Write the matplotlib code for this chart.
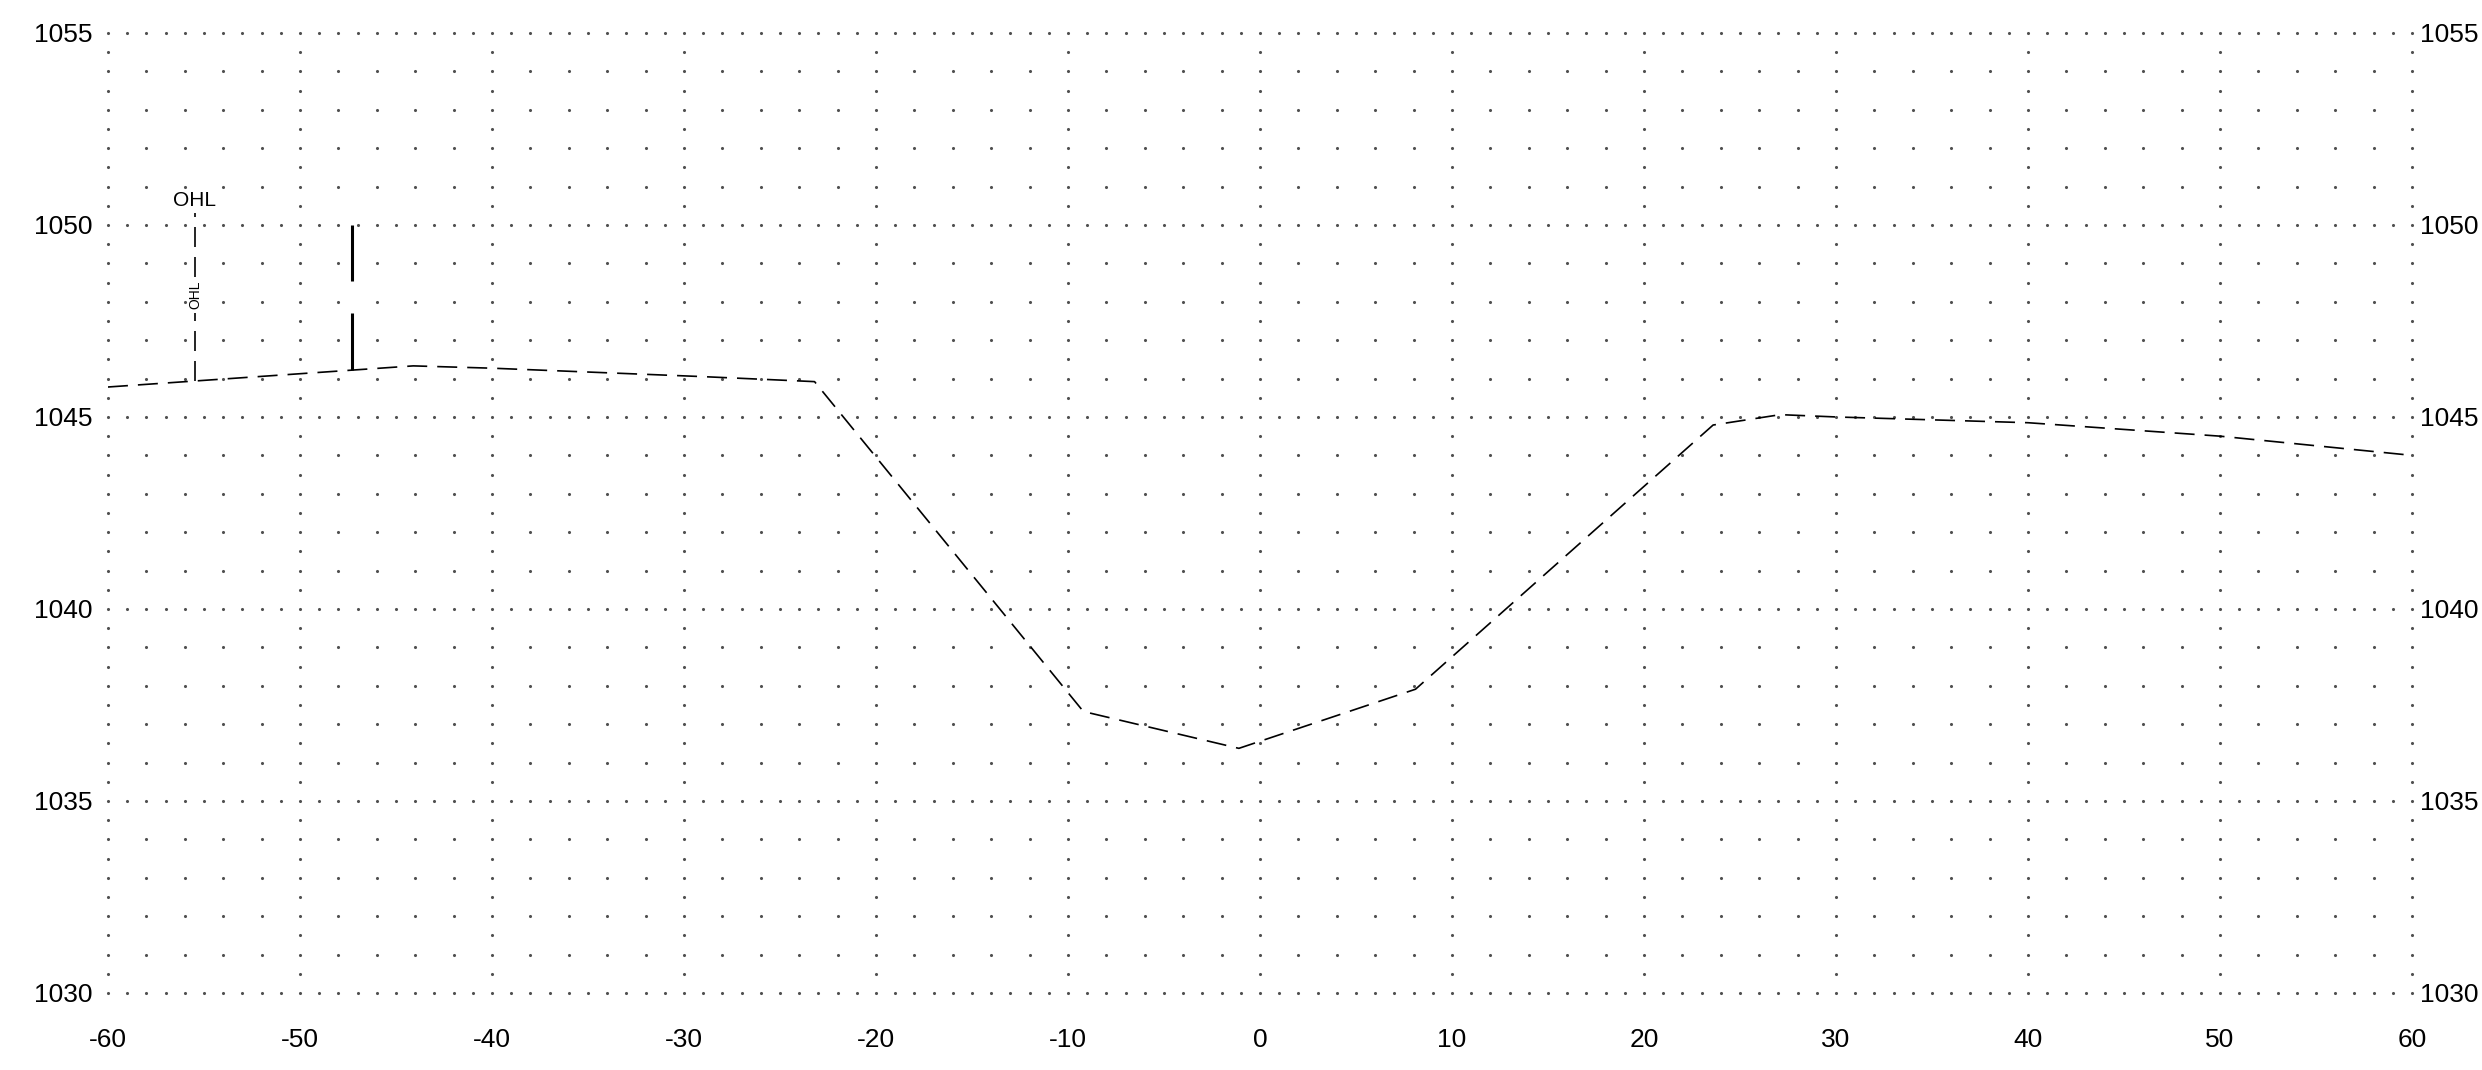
import numpy as np
import matplotlib
matplotlib.use("Agg")
import matplotlib.pyplot as plt

# ---- data ----
profile_x = [-60, -44.1, -40, -29, -23.2, -9.2, -1.1, 8.1, 23.6, 27.1, 30, 40, 50, 60]
profile_y = [1045.78, 1046.33, 1046.27, 1046.05, 1045.92, 1037.33, 1036.37, 1037.91,
             1044.79, 1045.06, 1045.0, 1044.85, 1044.5, 1044.0]
ohl_x = -55.47
ohl_top = 1050.3
ohl_label = "OHL"
pole_x = -47.3
pole_top = 1050.0
pole_gap = [1047.71, 1048.54]
x_ticks = list(range(-60, 61, 10))
y_ticks = list(range(1030, 1056, 5))
x_lim = (-60, 60)
y_lim = (1030, 1055)

plt.rcParams['font.family'] = ['Liberation Sans', 'DejaVu Sans']
plt.rcParams['axes.unicode_minus'] = False

fig = plt.figure(figsize=(24.82, 10.70), dpi=100)
ax = fig.add_axes([0.0435, 0.072, 0.9283, 0.8972])
ax.set_xlim(*x_lim)
ax.set_ylim(*y_lim)

# dotted grid
pts = []
for xv in np.arange(-60, 60.01, 10):
    for yv in np.arange(1030, 1055.01, 0.5):
        pts.append((xv, yv))
for yv in np.arange(1030, 1055.01, 5):
    for xv in np.arange(-60, 60.01, 1):
        pts.append((xv, yv))
for xv in np.arange(-60, 60.01, 2):
    for yv in np.arange(1030, 1055.01, 1):
        pts.append((xv, yv))
pts = np.unique(np.round(np.array(pts), 3), axis=0)
ax.scatter(pts[:, 0], pts[:, 1], s=5, c="#505050", linewidths=0, zorder=1, clip_on=False)

# profile
ax.plot(profile_x, profile_y, color="black", lw=1.2, dashes=(12, 6), zorder=3)

# OHL marker
ground_ohl = np.interp(ohl_x, profile_x, profile_y)
ax.plot([ohl_x, ohl_x], [ground_ohl, 1047.72], color="black", lw=1.2, dashes=(12, 6), zorder=3)
ax.plot([ohl_x, ohl_x], [1048.64, ohl_top], color="black", lw=1.2, dashes=(12, 6), zorder=3)
ax.text(ohl_x, 1048.18, ohl_label, rotation=90, ha="center", va="center", fontsize=10, zorder=4)
ax.text(ohl_x, ohl_top + 0.08, ohl_label, ha="center", va="bottom", fontsize=15, zorder=4)

# pole line
ground_pole = np.interp(pole_x, profile_x, profile_y)
ax.plot([pole_x, pole_x], [ground_pole, pole_gap[0]], color="black", lw=2.2, zorder=3,
        solid_capstyle='butt')
ax.plot([pole_x, pole_x], [pole_gap[1], pole_top], color="black", lw=2.2, zorder=3,
        solid_capstyle='butt')

ax.set_xticks(x_ticks)
ax.set_yticks(y_ticks)
ax.tick_params(axis='both', length=0, labelsize=19)
ax.tick_params(axis='x', pad=25)
ax.tick_params(axis='y', pad=11)
for s in ax.spines.values():
    s.set_visible(False)

axr = ax.twinx()
axr.set_ylim(*y_lim)
axr.set_yticks(y_ticks)
axr.tick_params(axis='y', length=0, labelsize=19, pad=6)
for s in axr.spines.values():
    s.set_visible(False)

fig.savefig("out.png", dpi=100)
